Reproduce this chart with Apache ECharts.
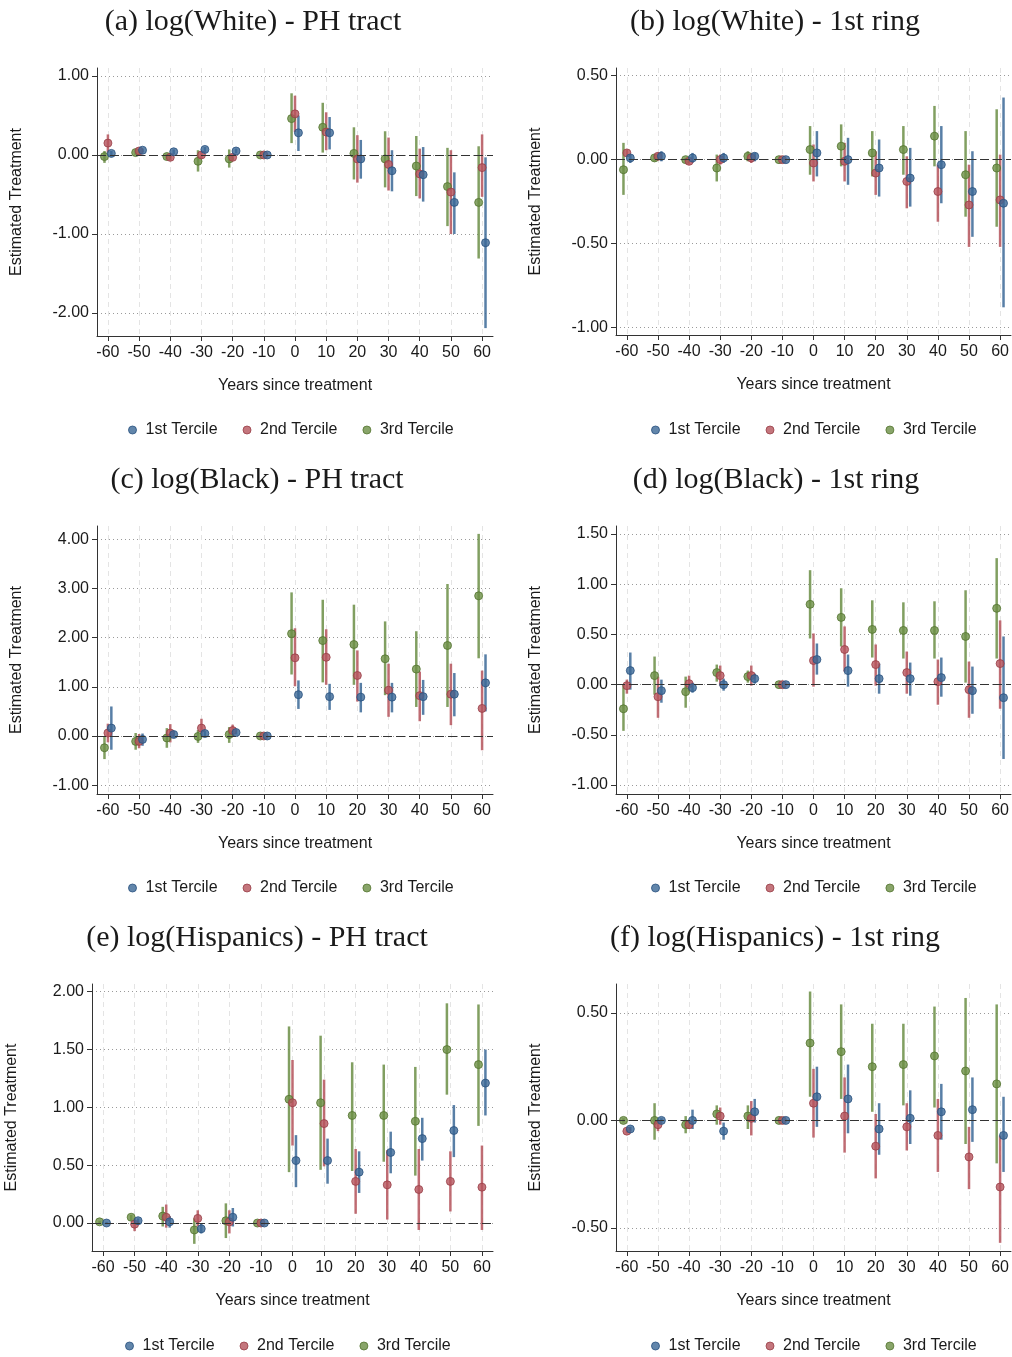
<!DOCTYPE html>
<html>
<head>
<meta charset="utf-8">
<script src="https://cdn.jsdelivr.net/npm/echarts@6.0.0/dist/echarts.min.js"></script>
<style>
  html, body { margin: 0; padding: 0; background: #fff; }
  #main { width: 1012px; height: 1357px; }
</style>
</head>
<body>
<div id="main"></div>
<script>
// x categories (years since treatment)
const years = [-60, -50, -40, -30, -20, -10, 0, 10, 20, 30, 40, 50, 60];
const terciles = ['1st Tercile', '2nd Tercile', '3rd Tercile'];
const panelTitles = [
  '(a) log(White) - PH tract',
  '(b) log(White) - 1st ring',
  '(c) log(Black) - PH tract',
  '(d) log(Black) - 1st ring',
  '(e) log(Hispanics) - PH tract',
  '(f) log(Hispanics) - 1st ring'
];

// y tick labels for each panel
const whitePH_ticks = [-2, -1, 0, 1];
const whiteRing_ticks = [-1, -0.5, 0, 0.5];
const blackPH_ticks = [-1, 0, 1, 2, 3, 4];
const blackRing_ticks = [-1, -0.5, 0, 0.5, 1, 1.5];
const hispPH_ticks = [0, 0.5, 1, 1.5, 2];
const hispRing_ticks = [-0.5, 0, 0.5];

// each row: [estimate, lower, upper], one row per year
const whitePH_1st = [[0.02,-0.02,0.05],[0.06,0.03,0.08],[0.04,0.01,0.07],[0.07,0.03,0.10],[0.05,0.02,0.08],[0,0,0],
  [0.28,0.05,0.50],[0.28,0.07,0.48],[-0.05,-0.30,0.19],[-0.20,-0.46,0.06],[-0.25,-0.59,0.10],[-0.60,-1.00,-0.22],[-1.11,-2.19,-0.03]];
const whitePH_2nd = [[0.15,0.03,0.26],[0.05,0.02,0.08],[-0.03,-0.07,0.01],[0.00,-0.05,0.05],[-0.03,-0.07,0.01],[0,0,0],
  [0.52,0.29,0.75],[0.29,0.06,0.54],[-0.05,-0.35,0.25],[-0.12,-0.45,0.22],[-0.24,-0.55,0.08],[-0.47,-1.00,0.06],[-0.16,-0.53,0.26]];
const whitePH_3rd = [[-0.02,-0.10,0.05],[0.03,0.00,0.06],[-0.02,-0.05,0.01],[-0.08,-0.21,0.06],[-0.05,-0.16,0.07],[0,0,0],
  [0.46,0.15,0.78],[0.35,0.03,0.66],[0.02,-0.31,0.35],[-0.05,-0.41,0.30],[-0.14,-0.52,0.24],[-0.40,-0.90,0.09],[-0.60,-1.31,0.11]];

const whiteRing_1st = [[0.01,-0.02,0.03],[0.02,-0.01,0.05],[0.01,-0.02,0.04],[0.01,-0.02,0.04],[0.02,-0.01,0.04],[0,0,0],
  [0.04,-0.10,0.17],[0.00,-0.15,0.13],[-0.05,-0.22,0.12],[-0.11,-0.28,0.07],[-0.03,-0.26,0.20],[-0.19,-0.46,0.05],[-0.26,-0.88,0.37]];
const whiteRing_2nd = [[0.04,0.02,0.06],[0.02,0.00,0.04],[-0.01,-0.03,0.01],[0.00,-0.03,0.03],[0.01,-0.02,0.04],[0,0,0],
  [-0.02,-0.13,0.09],[-0.01,-0.13,0.10],[-0.08,-0.21,0.05],[-0.13,-0.29,0.02],[-0.19,-0.37,-0.03],[-0.27,-0.52,-0.03],[-0.24,-0.52,0.03]];
const whiteRing_3rd = [[-0.06,-0.21,0.10],[0.01,-0.01,0.03],[0.00,-0.01,0.01],[-0.05,-0.13,0.03],[0.02,-0.01,0.05],[0,0,0],
  [0.06,-0.09,0.20],[0.08,-0.04,0.21],[0.04,-0.10,0.17],[0.06,-0.09,0.20],[0.14,-0.04,0.32],[-0.09,-0.34,0.17],[-0.05,-0.40,0.30]];

const blackPH_1st = [[0.16,-0.28,0.60],[-0.07,-0.20,0.05],[0.03,-0.04,0.10],[0.05,0.00,0.10],[0.07,0.03,0.12],[0,0,0],
  [0.84,0.55,1.13],[0.80,0.53,1.06],[0.79,0.48,1.08],[0.79,0.48,1.08],[0.80,0.43,1.14],[0.85,0.40,1.28],[1.08,0.50,1.66]];
const blackPH_2nd = [[0.06,-0.13,0.25],[-0.11,-0.25,0.04],[0.06,-0.13,0.24],[0.16,-0.02,0.35],[0.11,0.00,0.23],[0,0,0],
  [1.59,1.01,2.19],[1.60,1.04,2.17],[1.23,0.70,1.74],[0.93,0.39,1.47],[0.82,0.30,1.31],[0.85,0.22,1.47],[0.56,-0.29,1.33]];
const blackPH_3rd = [[-0.24,-0.47,0.00],[-0.11,-0.28,0.06],[-0.04,-0.24,0.16],[-0.01,-0.14,0.12],[0.03,-0.14,0.18],[0,0,0],
  [2.08,1.25,2.92],[1.94,1.09,2.77],[1.86,1.04,2.67],[1.57,0.83,2.33],[1.36,0.59,2.13],[1.84,0.59,3.09],[2.85,1.58,4.11]];

const blackRing_1st = [[0.14,-0.05,0.32],[-0.06,-0.18,0.05],[-0.03,-0.08,0.02],[0.00,-0.06,0.06],[0.06,0.01,0.11],[0,0,0],
  [0.25,0.10,0.41],[0.14,-0.02,0.30],[0.06,-0.09,0.21],[0.06,-0.11,0.22],[0.07,-0.12,0.27],[-0.06,-0.29,0.18],[-0.13,-0.74,0.48]];
const blackRing_2nd = [[-0.01,-0.09,0.05],[-0.12,-0.33,0.08],[0.01,-0.07,0.09],[0.09,-0.01,0.19],[0.09,-0.01,0.19],[0,0,0],
  [0.24,-0.02,0.51],[0.35,0.13,0.58],[0.20,-0.01,0.40],[0.12,-0.09,0.33],[0.03,-0.20,0.25],[-0.05,-0.33,0.23],[0.21,-0.24,0.64]];
const blackRing_3rd = [[-0.24,-0.46,0.00],[0.09,-0.10,0.28],[-0.07,-0.23,0.08],[0.12,0.03,0.20],[0.08,0.02,0.14],[0,0,0],
  [0.80,0.46,1.14],[0.67,0.38,0.96],[0.55,0.27,0.84],[0.54,0.26,0.82],[0.54,0.26,0.83],[0.48,0.02,0.94],[0.76,0.26,1.26]];

const hispPH_1st = [[0.00,-0.01,0.01],[0.02,0.00,0.04],[0.01,-0.04,0.06],[-0.05,-0.09,0.00],[0.05,-0.03,0.13],[0,0,0],
  [0.54,0.31,0.76],[0.54,0.34,0.73],[0.44,0.26,0.62],[0.61,0.43,0.79],[0.73,0.54,0.91],[0.80,0.57,1.02],[1.21,0.93,1.50]];
const hispPH_2nd = [null,[-0.01,-0.07,0.04],[0.05,-0.04,0.16],[0.04,-0.03,0.11],[0.01,-0.09,0.11],[0,0,0],
  [1.04,0.67,1.41],[0.86,0.49,1.24],[0.36,0.08,0.64],[0.33,0.03,0.63],[0.29,-0.06,0.64],[0.36,0.10,0.62],[0.31,-0.06,0.67]];
const hispPH_3rd = [[0.01,0.00,0.02],[0.05,0.02,0.07],[0.06,-0.03,0.14],[-0.06,-0.18,0.04],[0.02,-0.13,0.17],[0,0,0],
  [1.07,0.44,1.70],[1.04,0.46,1.62],[0.93,0.45,1.39],[0.93,0.53,1.37],[0.88,0.41,1.35],[1.50,1.11,1.90],[1.37,0.84,1.89]];

const hispRing_1st = [[-0.04,-0.05,-0.03],[0.00,-0.01,0.01],[0.00,-0.04,0.05],[-0.05,-0.09,-0.01],[0.04,-0.01,0.10],[0,0,0],
  [0.11,-0.03,0.25],[0.10,-0.06,0.26],[-0.04,-0.16,0.08],[0.01,-0.11,0.14],[0.04,-0.09,0.17],[0.05,-0.10,0.20],[-0.07,-0.24,0.11]];
const hispRing_2nd = [[-0.05,-0.06,-0.04],[-0.02,-0.05,0.00],[-0.02,-0.04,0.00],[0.02,-0.02,0.06],[0.01,-0.07,0.09],[0,0,0],
  [0.08,-0.08,0.24],[0.02,-0.15,0.20],[-0.12,-0.27,0.03],[-0.03,-0.14,0.08],[-0.07,-0.24,0.10],[-0.17,-0.32,-0.03],[-0.31,-0.57,-0.07]];
const hispRing_3rd = [[0.00,-0.01,0.01],[0.00,-0.09,0.08],[-0.02,-0.06,0.02],[0.03,-0.02,0.07],[0.02,-0.04,0.07],[0,0,0],
  [0.36,0.11,0.60],[0.32,0.10,0.54],[0.25,0.04,0.45],[0.26,0.07,0.45],[0.30,0.06,0.53],[0.23,-0.11,0.57],[0.17,-0.20,0.54]];

const panelData = [
  [whitePH_1st, whitePH_2nd, whitePH_3rd],
  [whiteRing_1st, whiteRing_2nd, whiteRing_3rd],
  [blackPH_1st, blackPH_2nd, blackPH_3rd],
  [blackRing_1st, blackRing_2nd, blackRing_3rd],
  [hispPH_1st, hispPH_2nd, hispPH_3rd],
  [hispRing_1st, hispRing_2nd, hispRing_3rd]
];
const panelTicks = [whitePH_ticks, whiteRing_ticks, blackPH_ticks, blackRing_ticks, hispPH_ticks, hispRing_ticks];

// layout of the six plots (pixels) and y ranges
const layout = [
  { left: 97,  top: 68,  width: 396, height: 268, yMin: -2.29, yMax: 1.10,  titleX: 248, legendX: 123 },
  { left: 616, top: 68,  width: 395, height: 267, yMin: -1.045, yMax: 0.546, titleX: 770, legendX: 646 },
  { left: 97,  top: 526, width: 396, height: 268, yMin: -1.18, yMax: 4.27,  titleX: 252, legendX: 123 },
  { left: 616, top: 526, width: 395, height: 268, yMin: -1.089, yMax: 1.58, titleX: 771, legendX: 646 },
  { left: 92,  top: 984, width: 401, height: 267, yMin: -0.242, yMax: 2.067, titleX: 252, legendX: 120 },
  { left: 616, top: 984, width: 395, height: 267, yMin: -0.608, yMax: 0.635, titleX: 770, legendX: 646 }
];

const colors = ['#3b6896', '#b5545c', '#6b8e45'];
const borders = ['#2b5280', '#983e47', '#54742f'];
const offsets = [1.1, 0, -1.1];   // dodge terciles around each year

const sansFont = 'Liberation Sans, Arial, sans-serif';
const textColor = '#1a1a1a';

var myChart = echarts.init(document.getElementById('main'));

function ciRenderer(color) {
  return function (params, api) {
    var a = api.coord([api.value(0), api.value(1)]);
    var b = api.coord([api.value(0), api.value(2)]);
    return {
      type: 'line',
      shape: { x1: a[0], y1: a[1], x2: b[0], y2: b[1] },
      style: { stroke: color, lineWidth: 2.5, opacity: 0.85 }
    };
  };
}

var option = {
  backgroundColor: '#fff',
  animation: false,
  title: [],
  legend: [],
  grid: [],
  xAxis: [],
  yAxis: [],
  series: []
};

for (let i = 0; i < 6; i++) {
  let L = layout[i];

  option.title.push({
    text: panelTitles[i],
    left: L.titleX,
    top: L.top - 66,
    textAlign: 'center',
    textStyle: { fontFamily: 'Liberation Serif, Times New Roman, serif', fontSize: 30, fontWeight: 'normal', color: textColor }
  });

  option.grid.push({ left: L.left, top: L.top, width: L.width, height: L.height });

  option.xAxis.push({
    type: 'value',
    gridIndex: i,
    min: -63.5,
    max: 63.5,
    name: 'Years since treatment',
    nameLocation: 'middle',
    nameGap: 42,
    nameTextStyle: { fontFamily: sansFont, fontSize: 16, color: textColor },
    axisLine: { show: true, onZero: false, lineStyle: { color: '#333', width: 1 } },
    axisTick: { show: true, length: 5, customValues: years, lineStyle: { color: '#333' } },
    axisLabel: { customValues: years, margin: 9, fontFamily: sansFont, fontSize: 16, color: textColor },
    splitLine: { show: true, lineStyle: { color: '#e4e4e4', type: [5, 4], width: 1 } }
  });

  option.yAxis.push({
    type: 'value',
    gridIndex: i,
    min: L.yMin,
    max: L.yMax,
    name: 'Estimated Treatment',
    nameLocation: 'middle',
    nameGap: 72,
    nameTextStyle: { fontFamily: sansFont, fontSize: 16, color: textColor },
    axisLine: { show: true, onZero: false, lineStyle: { color: '#333', width: 1 } },
    axisTick: { show: true, length: 5, customValues: panelTicks[i], lineStyle: { color: '#333' } },
    axisLabel: {
      customValues: panelTicks[i],
      margin: 8,
      fontFamily: sansFont, fontSize: 16, color: textColor,
      formatter: function (v) { return v.toFixed(2); }
    },
    splitLine: { show: true, lineStyle: { color: '#9a9a9a', type: [1, 3], width: 1 } }
  });

  option.legend.push({
    data: terciles.map(function (n, k) {
      return { name: n, itemStyle: { color: colors[k], borderColor: borders[k], borderWidth: 1, opacity: 0.8 } };
    }),
    left: L.legendX,
    top: L.top + 349,
    icon: 'circle',
    itemWidth: 16,
    itemHeight: 8,
    itemGap: 25,
    selectedMode: false,
    textStyle: { fontFamily: sansFont, fontSize: 16, color: textColor }
  });

  // dashed reference line at zero
  option.series.push({
    type: 'line',
    xAxisIndex: i,
    yAxisIndex: i,
    data: [],
    z: 1,
    silent: true,
    markLine: {
      symbol: 'none',
      silent: true,
      label: { show: false },
      lineStyle: { color: '#333', type: [9, 4], width: 1.2 },
      data: [{ yAxis: 0 }]
    }
  });

  // draw 3rd, then 2nd, then 1st tercile on top
  for (let k = 2; k >= 0; k--) {
    let rows = panelData[i][k];
    let ci = [];
    let pts = [];
    for (let j = 0; j < years.length; j++) {
      if (!rows[j]) continue;
      let x = years[j] + offsets[k];
      ci.push([x, rows[j][1], rows[j][2]]);
      pts.push([x, rows[j][0]]);
    }
    option.series.push({
      type: 'custom',
      name: terciles[k],
      xAxisIndex: i,
      yAxisIndex: i,
      renderItem: ciRenderer(colors[k]),
      encode: { x: 0, y: [1, 2] },
      data: ci,
      z: 2
    });
    option.series.push({
      type: 'scatter',
      name: terciles[k],
      xAxisIndex: i,
      yAxisIndex: i,
      symbol: 'circle',
      symbolSize: 8,
      itemStyle: { color: colors[k], borderColor: borders[k], borderWidth: 1, opacity: 0.8 },
      data: pts,
      z: 3
    });
  }
}

myChart.setOption(option);
</script>
</body>
</html>
